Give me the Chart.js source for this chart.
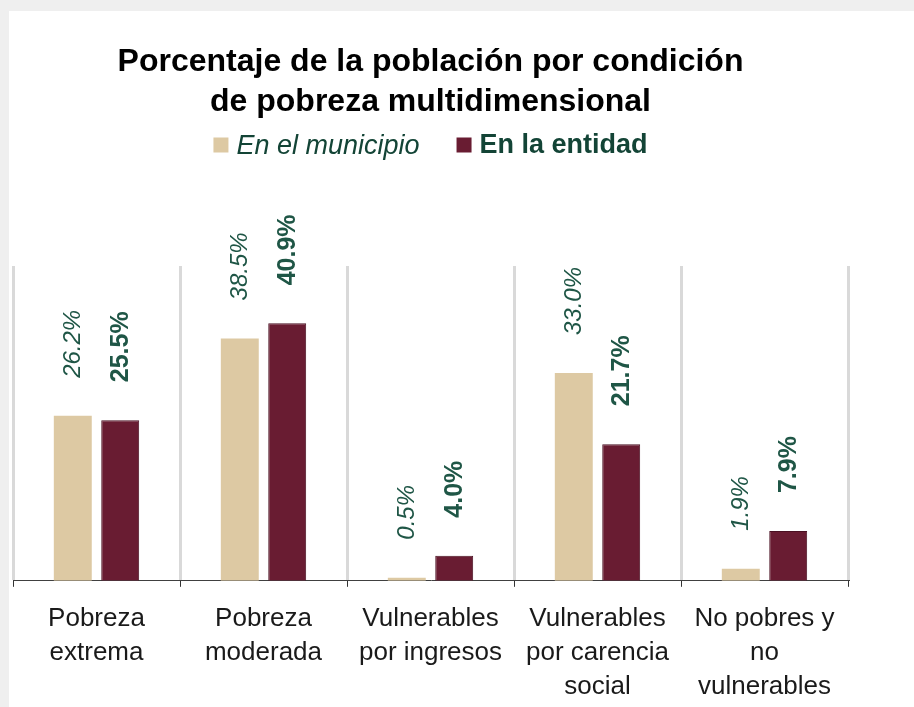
<!DOCTYPE html>
<html>
<head>
<meta charset="utf-8">
<script src="https://cdn.jsdelivr.net/npm/chart.js@4.4.1/dist/chart.umd.min.js"></script>
<style>
  html, body { margin: 0; padding: 0; background: #efefef; }
  body { width: 914px; height: 707px; position: relative; overflow: hidden; }
  #card { position: absolute; left: 9px; top: 11px; width: 905px; height: 696px; background: #fff; }
</style>
</head>
<body>
<div id="card"><canvas id="chart" width="905" height="696"></canvas></div>
<script>
// Data
const categories = [
    ['Pobreza', 'extrema'],
    ['Pobreza', 'moderada'],
    ['Vulnerables', 'por ingresos'],
    ['Vulnerables', 'por carencia', 'social'],
    ['No pobres y', 'no', 'vulnerables'],
];
const municipio = [26.2, 38.5, 0.5, 33.0, 1.9];
const entidad = [25.5, 40.9, 4.0, 21.7, 7.9];
const seriesNames = ['En el municipio', 'En la entidad'];

// Colors
const beige = '#DDC9A3';
const maroon = '#691C32';
const green = '#1f5646';
const FONT = "'Liberation Sans', Arial, sans-serif";

// Rotated value labels above each bar
const valueLabels = {
    id: 'valueLabels',
    afterDatasetsDraw(chart) {
        const { ctx } = chart;
        chart.data.datasets.forEach((ds, i) => {
            const meta = chart.getDatasetMeta(i);
            meta.data.forEach((bar, j) => {
                ctx.save();
                ctx.translate(bar.x + 1, bar.y - 38);
                ctx.rotate(-Math.PI / 2);
                ctx.font = i === 0 ? `italic 24px ${FONT}` : `bold 25px ${FONT}`;
                ctx.fillStyle = green;
                ctx.textAlign = 'left';
                ctx.textBaseline = 'middle';
                ctx.fillText(ds.data[j].toFixed(1) + '%', 0, 0);
                ctx.restore();
            });
        });
    },
};

// Legend with different font per item
const customLegend = {
    id: 'customLegend',
    afterDraw(chart) {
        const { ctx, chartArea } = chart;
        const y = chartArea.top - 121;
        const box = 15;
        const gap = 8;
        const spacing = 37;
        const fonts = [`italic 27px ${FONT}`, `bold 27px ${FONT}`];
        const widths = seriesNames.map((name, i) => {
            ctx.font = fonts[i];
            return box + gap + ctx.measureText(name).width;
        });
        const total = widths[0] + spacing + widths[1];
        let x = (chartArea.left + chartArea.right) / 2 - total / 2;
        chart.data.datasets.forEach((ds, i) => {
            ctx.save();
            ctx.fillStyle = ds.backgroundColor;
            ctx.fillRect(x, y - box / 2, box, box);
            ctx.font = fonts[i];
            ctx.fillStyle = '#134436';
            ctx.textAlign = 'left';
            ctx.textBaseline = 'middle';
            ctx.fillText(seriesNames[i], x + box + gap, y + 1);
            ctx.restore();
            x += widths[i] + spacing;
        });
    },
};

const ctx = document.getElementById('chart').getContext('2d');

// eslint-disable-next-line no-new
new Chart(ctx, {
    type: 'bar',
    data: {
        labels: categories,
        datasets: [
            {
                label: seriesNames[0],
                data: municipio,
                backgroundColor: beige,
                borderWidth: 0,
            },
            {
                label: seriesNames[1],
                data: entidad,
                backgroundColor: maroon,
                borderColor: '#4a1022',
                borderWidth: 1,
            },
        ],
    },
    options: {
        responsive: false,
        animation: false,
        devicePixelRatio: 1,
        categoryPercentage: 0.568,
        barPercentage: 0.8,
        layout: {
            padding: { left: 4, right: 66, top: 0, bottom: -12 },
        },
        plugins: {
            legend: { display: false },
            tooltip: { enabled: false },
            title: {
                display: true,
                text: ['Porcentaje de la población por condición', 'de pobreza multidimensional'],
                color: '#000',
                font: { family: FONT, size: 32, weight: 'bold', lineHeight: 1.25 },
                padding: { top: 31, bottom: 144 },
            },
        },
        scales: {
            x: {
                offset: true,
                grid: {
                    offset: true,
                    color: '#d9d9d9',
                    lineWidth: 3,
                    tickColor: '#333',
                    tickWidth: 1,
                    tickLength: 6,
                },
                border: { display: true, color: '#404040', width: 1 },
                ticks: {
                    color: '#1a1a1a',
                    font: { family: FONT, size: 26, lineHeight: 1.31 },
                    padding: 15,
                    maxRotation: 0,
                    autoSkip: false,
                },
            },
            y: {
                display: false,
                min: 0,
                max: 50,
            },
        },
    },
    plugins: [valueLabels, customLegend],
});
</script>
</body>
</html>
